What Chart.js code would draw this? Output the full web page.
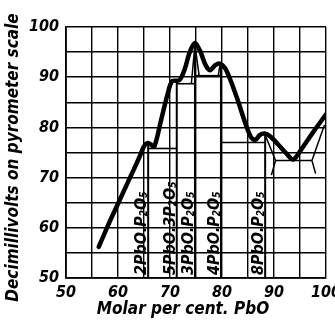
<!DOCTYPE html>
<html>
<head>
<meta charset="utf-8">
<script src="https://cdn.jsdelivr.net/npm/chart.js@4.4.1/dist/chart.umd.min.js"></script>
<style>
  html, body { margin: 0; padding: 0; background: #fff; }
  #wrap { width: 335px; height: 321px; }
</style>
</head>
<body>
<div id="wrap"><canvas id="chart" width="335" height="321"></canvas></div>
<script>
// ===================== thermal curve, PbO - P2O5 =====================
var FONT = '"DejaVu Sans Condensed", "Liberation Sans Narrow", "DejaVu Sans", sans-serif';

// main (thick) curve
var curveX = [56.3, 58, 60, 62, 64, 65, 65.7, 66.3, 67, 68.3, 69.5, 70.4, 71.8, 72.8, 73.8, 74.8, 75.8, 76.8, 77.7, 78.7, 79.6, 80.6, 81.6, 83, 84.5, 85.6, 86.4, 87.3, 88.2, 89.3, 90.8, 92.3, 93.7, 95.5, 97.5, 100];
var curveY = [56.2, 60.3, 64.8, 69.3, 73.8, 76.2, 76.9, 76.6, 76.2, 81.5, 86.5, 89.2, 89.4, 91.5, 95, 96.8, 95.2, 92.5, 91.4, 92.4, 92.7, 91.8, 89.5, 85.5, 80.8, 78, 77.5, 78.5, 78.8, 78.2, 76.6, 74.9, 73.6, 76, 79, 82.6];

// compound lines
var compoundNames = [
  ["2PbO.P", "2", "O", "5"],
  ["5PbO.3P", "2", "O", "5"],
  ["3PbO.P", "2", "O", "5"],
  ["4PbO.P", "2", "O", "5"],
  ["8PbO.P", "2", "O", "5"]
];
var compoundX = [65.8, 71.3, 74.8, 79.8, 88.3];
var compoundTop = [77, 89.3, 96.8, 92.7, 78.8];

// horizontal arrest lines
var arrestY = [75.8, 88.7, 90.3, 77, 73.4];
var arrestFrom = [65.8, 71.3, 74.8, 79.8, 90.3];
var arrestTo = [71.3, 74.8, 79.8, 88.3, 97.3];

// thin branch lines
var branchLines = [
  [[74.8, 96.5], [74.1, 88.7]],
  [[74.8, 96.5], [75.6, 90.3]],
  [[79.6, 92.5], [79.3, 90.3]],
  [[88.3, 78.5], [90.3, 73.4], [89.5, 70.5]],
  [[97.3, 73.4], [98, 70.8]],
  [[97.3, 73.4], [99.7, 80.5]]
];

var xTicks = [50, 60, 70, 80, 90, 100];
var yTicks = [50, 60, 70, 80, 90, 100];
var xTitle = 'Molar per cent. PbO';
var yTitle = 'Decimillivolts on pyrometer scale';

function pts(xs, ys) {
  return xs.map(function (x, i) { return { x: x, y: ys[i] }; });
}

var datasets = [];
datasets.push({
  data: pts(curveX, curveY),
  showLine: true, borderColor: '#000', borderWidth: 4.5,
  pointRadius: 0, tension: 0.3, borderCapStyle: 'round', order: 0
});
compoundX.forEach(function (x, i) {
  datasets.push({
    data: [{ x: x, y: 50 }, { x: x, y: compoundTop[i] }],
    showLine: true, borderColor: '#000', borderWidth: 2, pointRadius: 0, order: 2
  });
});
arrestY.forEach(function (y, i) {
  datasets.push({
    data: [{ x: arrestFrom[i], y: y }, { x: arrestTo[i], y: y }],
    showLine: true, borderColor: '#000', borderWidth: 1.6, pointRadius: 0, order: 2
  });
});
branchLines.forEach(function (line) {
  datasets.push({
    data: line.map(function (p) { return { x: p[0], y: p[1] }; }),
    showLine: true, borderColor: '#000', borderWidth: 1.5, pointRadius: 0, order: 2
  });
});

// rotated compound labels with subscripts + axis titles
var compoundLabels = {
  id: 'compoundLabels',
  afterDatasetsDraw: function (chart) {
    var ctx = chart.ctx;
    var xs = chart.scales.x, ys = chart.scales.y;
    var bottom = ys.getPixelForValue(50) - 3;
    compoundX.forEach(function (x, i) {
      var px = xs.getPixelForValue(x) - 2;
      ctx.save();
      ctx.translate(px, bottom);
      ctx.rotate(-Math.PI / 2);
      ctx.fillStyle = '#000';
      ctx.textBaseline = 'alphabetic';
      var parts = compoundNames[i];
      var cx = 0;
      parts.forEach(function (p, k) {
        var sub = (k === 1 || k === 3);
        ctx.font = 'italic bold ' + (sub ? 10 : 16) + 'px ' + FONT;
        ctx.fillText(p, cx, sub ? 1 : 0);
        cx += ctx.measureText(p).width;
      });
      ctx.restore();
    });
    ctx.save();
    ctx.fillStyle = '#000';
    ctx.font = 'italic bold 17px ' + FONT;
    ctx.textAlign = 'center';
    ctx.textBaseline = 'middle';
    ctx.fillText(xTitle, xs.getPixelForValue(72.5), 310);
    ctx.translate(14, ys.getPixelForValue(74));
    ctx.rotate(-Math.PI / 2);
    ctx.fillText(yTitle, 0, 0);
    ctx.restore();
  }
};

new Chart(document.getElementById('chart'), {
  type: 'scatter',
  data: { datasets: datasets },
  options: {
    responsive: false,
    animation: false,
    devicePixelRatio: 1,
    layout: { padding: { top: 27, right: 9, left: 0, bottom: 0 } },
    plugins: { legend: { display: false }, tooltip: { enabled: false } },
    scales: {
      x: {
        type: 'linear', min: 50, max: 100,
        afterFit: function (s) { s.height = 43; s.paddingLeft = 0; s.paddingRight = 0; },
        afterBuildTicks: function (s) {
          var t = [];
          for (var v = 50; v <= 100; v += 5) t.push({ value: v });
          s.ticks = t;
        },
        ticks: {
          autoSkip: false, maxRotation: 0, padding: 5, color: '#000',
          font: { family: FONT, size: 16, style: 'italic', weight: 'bold' },
          callback: function (v) { return xTicks.indexOf(v) >= 0 ? String(v) : ''; }
        },
        grid: { color: '#000', lineWidth: 1.4, drawTicks: false },
        border: { color: '#000', width: 1.8 }
      },
      y: {
        type: 'linear', min: 50, max: 100,
        afterFit: function (s) { s.width = 66; s.paddingTop = 0; s.paddingBottom = 0; },
        afterBuildTicks: function (s) {
          var t = [];
          for (var v = 50; v <= 100; v += 5) t.push({ value: v });
          s.ticks = t;
        },
        ticks: {
          autoSkip: false, padding: 7, color: '#000',
          font: { family: FONT, size: 16, style: 'italic', weight: 'bold' },
          callback: function (v) { return yTicks.indexOf(v) >= 0 ? String(v) : ''; }
        },
        grid: { color: '#000', lineWidth: 1.4, drawTicks: false },
        border: { color: '#000', width: 1.8 }
      }
    }
  },
  plugins: [compoundLabels]
});
</script>
</body>
</html>
